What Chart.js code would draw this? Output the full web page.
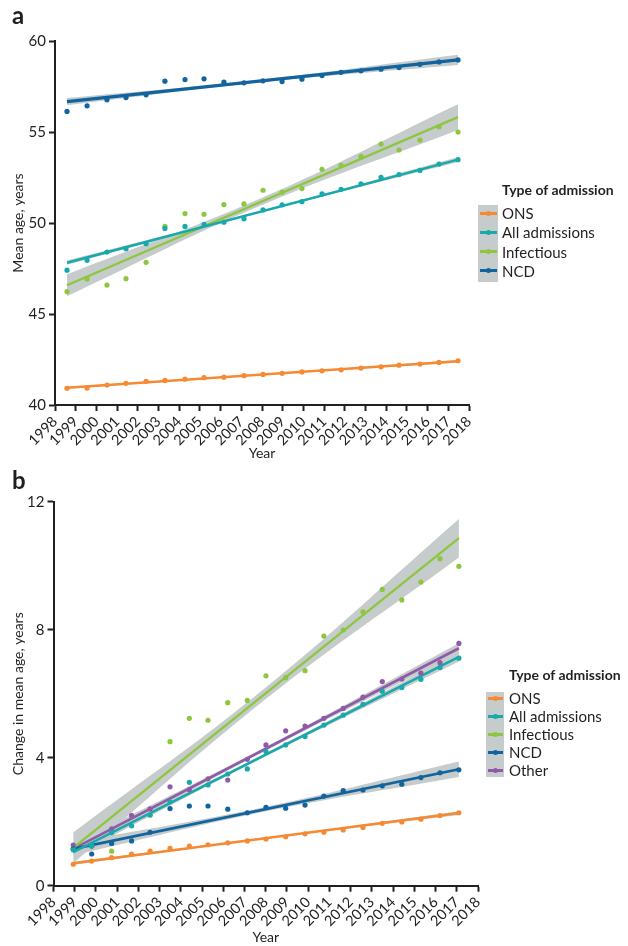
<!DOCTYPE html>
<html><head><meta charset="utf-8">
<script src="https://cdn.jsdelivr.net/npm/chart.js@4.4.0/dist/chart.umd.min.js"></script>
<style>
html,body{margin:0;padding:0;background:#fff}
body{width:628px;height:946px;position:relative;overflow:hidden;font-family:Lato,"Open Sans",sans-serif;color:#231f20}
canvas{position:absolute;left:0}
#ca{top:0}
#cb{top:462px}
.plab{position:absolute;font-weight:bold;font-size:24px;line-height:24px}
.lt{position:absolute;font-weight:bold;font-size:14px;line-height:18px;white-space:nowrap}
.li{position:absolute;font-size:15px;line-height:18px;white-space:nowrap}
.gb{position:absolute;background:#c6cbcb}
.sl{position:absolute;height:3px}
.sd{position:absolute;width:5px;height:5px;border-radius:50%}
</style>
</head><body>
<canvas id="ca" width="628" height="462"></canvas>
<canvas id="cb" width="628" height="484"></canvas>
<div class="plab" style="left:12px;top:3px">a</div>
<div class="plab" style="left:12px;top:468px">b</div>
<div id="lega"></div>
<div id="legb"></div>
<script>
// ---------- DATA ----------
const yearTicks = [1998,1999,2000,2001,2002,2003,2004,2005,2006,2007,2008,2009,2010,2011,2012,2013,2014,2015,2016,2017,2018];
const seriesA = ['ONS','All admissions','Infectious','NCD'];
const seriesB = ['ONS','All admissions','Infectious','NCD','Other'];

// Panel a (mean age, years)
const xA = [1998.58,1999.55,2000.51,2001.43,2002.40,2003.31,2004.28,2005.20,2006.16,2007.13,2008.05,2008.97,2009.93,2010.90,2011.82,2012.78,2013.75,2014.62,2015.63,2016.55,2017.47];
const onsA = [40.92,40.93,41.10,41.19,41.30,41.35,41.42,41.50,41.53,41.61,41.68,41.74,41.82,41.88,41.93,42.03,42.10,42.19,42.25,42.34,42.43];
const allA = [47.41,47.95,48.40,48.59,48.86,49.70,49.81,49.92,50.04,50.23,50.72,51.00,51.17,51.60,51.85,52.15,52.51,52.66,52.89,53.24,53.48];
const infA = [46.23,46.92,46.59,46.94,47.84,49.82,50.52,50.48,51.01,51.05,51.80,51.69,51.89,52.95,53.17,53.66,54.34,54.01,54.56,55.29,55.00];
const ncdA = [56.13,56.44,56.77,56.89,57.04,57.79,57.88,57.92,57.74,57.70,57.81,57.77,57.90,58.10,58.28,58.36,58.45,58.54,58.72,58.85,58.96];
const fitStartA = [40.95,47.82,46.58,56.67];
const fitEndA   = [42.40,53.48,55.82,58.96];
const bandStartA = [0.05,0.12,0.60,0.20];
const bandMidA   = [0.03,0.05,0.20,0.07];
const bandEndA   = [0.07,0.13,0.71,0.28];

// Panel b (change in mean age, years)
const xB = [1998.93,1999.80,2000.74,2001.68,2002.55,2003.49,2004.40,2005.28,2006.21,2007.13,2008.01,2008.94,2009.85,2010.74,2011.65,2012.58,2013.49,2014.41,2015.31,2016.21,2017.10];
const onsB = [0.67,0.77,0.875,0.99,1.08,1.17,1.24,1.28,1.34,1.40,1.46,1.53,1.62,1.67,1.74,1.82,1.95,1.99,2.08,2.19,2.28];
const allB = [1.12,1.24,1.66,1.87,2.21,2.62,3.23,3.15,3.49,3.65,4.19,4.40,4.66,5.02,5.33,5.67,6.08,6.19,6.45,6.82,7.11];
const infB = [1.15,1.24,1.08,2.19,2.21,4.50,5.23,5.17,5.72,5.79,6.56,6.50,6.72,7.80,7.99,8.56,9.26,8.93,9.49,10.22,9.98];
const ncdB = [1.15,0.99,1.32,1.40,1.67,2.41,2.49,2.49,2.39,2.28,2.45,2.42,2.52,2.80,2.97,2.99,3.12,3.17,3.38,3.53,3.62];
const othB = [1.27,1.24,1.78,2.19,2.40,3.09,3.00,3.34,3.30,3.95,4.40,4.84,4.99,5.23,5.54,5.89,6.38,6.46,6.64,6.97,7.57];
const fitStartB = [0.70,1.05,1.18,1.15,1.15];
const fitEndB   = [2.27,7.15,10.86,3.64,7.42];
const bandStartB = [0.05,0.14,0.48,0.20,0.15];
const bandMidB   = [0.02,0.05,0.18,0.07,0.06];
const bandEndB   = [0.06,0.14,0.60,0.24,0.16];

// ---------- STYLE ----------
const INK = '#231f20';
const BAND = '#c6cbcb';
const COLORS = {'ONS':'#F58A33','All admissions':'#17A9AC','Infectious':'#8DC63F','NCD':'#11649E','Other':'#8F5BA8'};
const POINT_ORDER = {'ONS':1,'All admissions':1,'Infectious':1.5,'NCD':1,'Other':1};

function buildDatasets(x, names, values, fs, fe, bs, bm, be, widths) {
  const ds = [];
  const x0 = x[0], x1 = x[x.length-1], xm = (x0 + x1) / 2;
  names.forEach((n, k) => {
    const fm = (fs[k] + fe[k]) / 2;
    const lowIdx = ds.length;
    ds.push({type:'line', data:[{x:x0,y:fs[k]-bs[k]},{x:xm,y:fm-bm[k]},{x:x1,y:fe[k]-be[k]}],
      borderWidth:0, borderColor:'rgba(0,0,0,0)', pointRadius:0, fill:false, tension:0.4, order:3});
    ds.push({type:'line', data:[{x:x0,y:fs[k]+bs[k]},{x:xm,y:fm+bm[k]},{x:x1,y:fe[k]+be[k]}],
      borderWidth:0, borderColor:'rgba(0,0,0,0)', pointRadius:0, fill:lowIdx, backgroundColor:BAND, tension:0.4, order:3});
  });
  names.forEach((n, k) => {
    ds.push({type:'line', label:n, data:[{x:x0,y:fs[k]},{x:x1,y:fe[k]}], borderColor:COLORS[n],
      borderWidth:widths[k], pointRadius:0, fill:false, order:2});
  });
  names.forEach((n, k) => {
    ds.push({type:'scatter', label:n+' pts', data:values[k].map((v,i)=>({x:x[i], y:v})),
      backgroundColor:COLORS[n], borderWidth:0, pointRadius:2.6, pointHoverRadius:2.6, order:POINT_ORDER[n]});
  });
  return ds;
}

function axisCommon() {
  return {
    grid:{display:true, drawOnChartArea:false, drawTicks:true, tickLength:6, tickColor:INK, tickWidth:2},
    border:{display:true, color:INK, width:2}
  };
}

function makeChart(id, cfg) {
  const c = axisCommon();
  return new Chart(document.getElementById(id), {
    type:'scatter',
    data:{datasets:cfg.datasets},
    options:{
      responsive:false, animation:false,
      layout:{padding:cfg.padding},
      plugins:{legend:{display:false}, tooltip:{enabled:false}},
      scales:{
        x:{type:'linear', min:1998, max:2018,
          afterBuildTicks:s=>{s.ticks = yearTicks.map(v=>({value:v}));},
          afterFit:s=>{s.height = cfg.xh;},
          ticks:{autoSkip:false, minRotation:45, maxRotation:45, color:INK, padding:2,
            font:{family:'Lato', size:14.5}, callback:v=>String(v)},
          title:{display:true, text:'Year', color:INK, font:{family:'Lato', size:14}, padding:{top:0,bottom:0}},
          grid:c.grid, border:c.border},
        y:{type:'linear', min:cfg.ymin, max:cfg.ymax,
          afterBuildTicks:s=>{s.ticks = cfg.yticks.map(v=>({value:v}));},
          afterFit:s=>{s.width = cfg.yw;},
          ticks:{color:INK, padding:3, font:{family:'Lato', size:15}, callback:v=>String(v)},
          title:{display:true, text:cfg.ytitle, color:INK, font:{family:'Lato', size:14}, padding:{top:10,bottom:0}},
          grid:c.grid, border:c.border}
      }
    }
  });
}

const yTicksA = [40,45,50,55,60];
const yTicksB = [0,4,8,12];

makeChart('ca', {
  datasets: buildDatasets(xA, seriesA, [onsA,allA,infA,ncdA], fitStartA, fitEndA, bandStartA, bandMidA, bandEndA, [2.5,2.5,2.3,3.2]),
  padding:{top:41, right:159, left:0, bottom:0}, xh:57, yw:55,
  ymin:40, ymax:60, yticks:yTicksA, ytitle:'Mean age, years'
});
makeChart('cb', {
  datasets: buildDatasets(xB, seriesB, [onsB,allB,infB,ncdB,othB], fitStartB, fitEndB, bandStartB, bandMidB, bandEndB, [2.5,2.5,2.3,2.7,2.6]),
  padding:{top:39.7, right:150, left:0, bottom:0}, xh:60.3, yw:53.5,
  ymin:0, ymax:12, yticks:yTicksB, ytitle:'Change in mean age, years'
});

// ---------- LEGENDS ----------
function legend(id, names, L) {
  const el = document.getElementById(id);
  let h = '';
  h += `<div class="lt" style="left:${L.tx}px;top:${L.titleY-9}px">Type of admission</div>`;
  h += `<div class="gb" style="left:${L.gx}px;top:${L.gy}px;width:${L.gw}px;height:${L.gh}px"></div>`;
  names.forEach((n,i)=>{
    const cy = L.y0 + i*L.step;
    h += `<div class="sl" style="left:${L.lx}px;width:${L.lw}px;top:${cy-1.5}px;background:${COLORS[n]}"></div>`;
    h += `<div class="sd" style="left:${L.dx-2.5}px;top:${cy-2.5}px;background:${COLORS[n]}"></div>`;
    h += `<div class="li" style="left:${L.tx}px;top:${cy-9}px">${n}</div>`;
  });
  el.innerHTML = h;
}
legend('lega', seriesA, {tx:502, titleY:190, gx:478, gy:205, gw:20, gh:77, y0:213, step:19.3, lx:480, lw:17, dx:488.5});
legend('legb', seriesB, {tx:509, titleY:675, gx:486, gy:692, gw:18, gh:85, y0:698, step:18, lx:488, lw:15, dx:495.5});
</script>
</body></html>
